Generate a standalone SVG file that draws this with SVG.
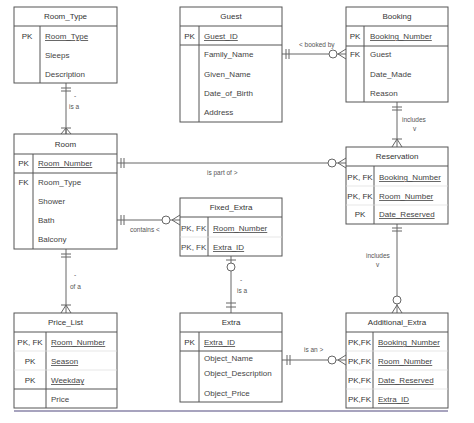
<svg xmlns="http://www.w3.org/2000/svg" width="474" height="423" viewBox="0 0 474 423">
<style>
.box{fill:#fff;stroke:#555;stroke-width:1}
.ln{fill:none;stroke:#666;stroke-width:1}
.sep{stroke:#555;stroke-width:1}
.fsep{stroke:#ddd;stroke-width:0.7}
text{font-family:"Liberation Sans",Arial,sans-serif;font-size:8px;fill:#444}
.h{text-anchor:middle;fill:#333}
.k{text-anchor:middle;fill:#333}
.u{text-decoration:underline}
.lbl{font-size:6.5px;fill:#555}
.circ{fill:#fff;stroke:#666;stroke-width:1}
</style>
<rect width="474" height="423" fill="#fff"/>

<g id="connectors">
  <!-- Room_Type -> Room -->
  <path class="ln" d="M66,83V134 M61,88H71 M61,91H71 M61,128H71 M66,128L61,134 M66,128V134 M66,128L71,134"/>
  <text class="lbl" x="74" y="98">-</text>
  <text class="lbl" x="69" y="109">is a</text>
  <!-- Guest -> Booking -->
  <path class="ln" d="M282,54H329 M286,49V59 M289,49V59 M337,54H346 M338,54L346,49 M338,54L346,59"/>
  <circle class="circ" cx="333" cy="54" r="4"/>
  <text class="lbl" x="299" y="47">&lt; booked by</text>
  <!-- Booking -> Reservation -->
  <path class="ln" d="M397,102V147 M392,107H402 M392,110H402 M392,139H402 M397,139L392,147 M397,139L402,147"/>
  <text class="lbl" x="402" y="122">includes</text>
  <text class="lbl" x="413" y="131">v</text>
  <!-- Room -> Reservation -->
  <path class="ln" d="M117,163H328 M121,158V168 M124,158V168 M336,163H346 M338,163L346,158 M338,163L346,168"/>
  <circle class="circ" cx="332" cy="163" r="4"/>
  <text class="lbl" x="207" y="175">is part of &gt;</text>
  <!-- Room -> Fixed_Extra -->
  <path class="ln" d="M117,220H162 M121,215V225 M124,215V225 M170,220H180 M172,220L180,215 M172,220L180,225"/>
  <circle class="circ" cx="166" cy="220" r="4"/>
  <text class="lbl" x="130" y="232">contains &lt;</text>
  <!-- Room -> Price_List -->
  <path class="ln" d="M66,249V313 M61,254H71 M61,257H71 M61,305H71 M66,305L61,313 M66,305L71,313"/>
  <text class="lbl" x="74" y="277">-</text>
  <text class="lbl" x="70" y="289">of a</text>
  <!-- Fixed_Extra -> Extra -->
  <path class="ln" d="M231,256V263 M231,271V313 M226,260H236 M226,303H236 M226,307H236"/>
  <circle class="circ" cx="231" cy="267" r="4"/>
  <text class="lbl" x="240" y="282">-</text>
  <text class="lbl" x="237" y="293">is a</text>
  <!-- Reservation -> Additional_Extra -->
  <path class="ln" d="M397,224V296 M392,228H402 M392,231H402 M397,304V313 M397,305L392,313 M397,305L402,313"/>
  <circle class="circ" cx="397" cy="300" r="4"/>
  <text class="lbl" x="366" y="258">includes</text>
  <text class="lbl" x="376" y="267">v</text>
  <!-- Extra -> Additional_Extra -->
  <path class="ln" d="M282,360H328 M287,355V365 M290,355V365 M336,360H346 M338,360L346,355 M338,360L346,365"/>
  <circle class="circ" cx="332" cy="360" r="4"/>
  <text class="lbl" x="304" y="352">is an &gt;</text>
</g>

<g id="Room_Type">
  <rect class="box" x="14" y="7" width="103" height="76"/>
  <line class="sep" x1="14" y1="26" x2="117" y2="26"/>
  <line class="sep" x1="40" y1="26" x2="40" y2="83"/>
  <text class="h" x="65.5" y="19">Room_Type</text>
  <text class="k" x="27" y="39">PK</text>
  <text class="u" x="45" y="39">Room_Type</text>
  <text x="45" y="58">Sleeps</text>
  <text x="45" y="77">Description</text>
</g>

<g id="Guest">
  <rect class="box" x="180" y="7" width="102" height="115"/>
  <line class="sep" x1="180" y1="26" x2="282" y2="26"/>
  <line class="sep" x1="180" y1="45" x2="282" y2="45"/>
  <line class="sep" x1="199" y1="26" x2="199" y2="122"/>
  <text class="h" x="231" y="19">Guest</text>
  <text class="k" x="189.5" y="39">PK</text>
  <text class="u" x="204" y="39">Guest_ID</text>
  <text x="204" y="57">Family_Name</text>
  <text x="204" y="77">Given_Name</text>
  <text x="204" y="96">Date_of_Birth</text>
  <text x="204" y="115">Address</text>
</g>

<g id="Booking">
  <rect class="box" x="346" y="7" width="102" height="95"/>
  <line class="sep" x1="346" y1="26" x2="448" y2="26"/>
  <line class="sep" x1="346" y1="46" x2="448" y2="46"/>
  <line class="sep" x1="364" y1="26" x2="364" y2="102"/>
  <text class="h" x="397" y="19">Booking</text>
  <text class="k" x="355" y="39">PK</text>
  <text class="u" x="370" y="39">Booking_Number</text>
  <text class="k" x="355" y="57">FK</text>
  <text x="370" y="57">Guest</text>
  <text x="370" y="77">Date_Made</text>
  <text x="370" y="96">Reason</text>
</g>

<g id="Room">
  <rect class="box" x="14" y="134" width="103" height="115"/>
  <line class="sep" x1="14" y1="154" x2="117" y2="154"/>
  <line class="sep" x1="14" y1="173" x2="117" y2="173"/>
  <line class="sep" x1="33" y1="154" x2="33" y2="249"/>
  <text class="h" x="65.5" y="147">Room</text>
  <text class="k" x="23.5" y="166">PK</text>
  <text class="u" x="38" y="166">Room_Number</text>
  <text class="k" x="23.5" y="185">FK</text>
  <text x="38" y="185">Room_Type</text>
  <text x="38" y="204">Shower</text>
  <text x="38" y="223">Bath</text>
  <text x="38" y="242">Balcony</text>
</g>

<g id="Reservation">
  <rect class="box" x="346" y="147" width="102" height="77"/>
  <line class="sep" x1="346" y1="166" x2="448" y2="166"/>
  <line class="sep" x1="374" y1="166" x2="374" y2="224"/>
  <line class="fsep" x1="346" y1="186" x2="448" y2="186"/>
  <line class="fsep" x1="346" y1="205" x2="448" y2="205"/>
  <text class="h" x="397" y="159">Reservation</text>
  <text class="k" x="360" y="180">PK, FK</text>
  <text class="u" x="379" y="180">Booking_Number</text>
  <text class="k" x="360" y="199">PK, FK</text>
  <text class="u" x="379" y="199">Room_Number</text>
  <text class="k" x="360" y="217">PK</text>
  <text class="u" x="379" y="217">Date_Reserved</text>
</g>

<g id="Fixed_Extra">
  <rect class="box" x="180" y="198" width="102" height="58"/>
  <line class="sep" x1="180" y1="217" x2="282" y2="217"/>
  <line class="sep" x1="208" y1="217" x2="208" y2="256"/>
  <line class="fsep" x1="180" y1="237" x2="282" y2="237"/>
  <text class="h" x="231" y="210">Fixed_Extra</text>
  <text x="181" y="231">PK, FK</text>
  <text class="u" x="213" y="231">Room_Number</text>
  <text x="181" y="250">PK, FK</text>
  <text class="u" x="213" y="250">Extra_ID</text>
</g>

<g id="Price_List">
  <rect class="box" x="14" y="313" width="103" height="95"/>
  <line class="sep" x1="14" y1="332" x2="117" y2="332"/>
  <line class="sep" x1="14" y1="389" x2="117" y2="389"/>
  <line class="sep" x1="46" y1="332" x2="46" y2="408"/>
  <line class="fsep" x1="14" y1="351" x2="117" y2="351"/>
  <line class="fsep" x1="14" y1="370" x2="117" y2="370"/>
  <text class="h" x="65.5" y="325">Price_List</text>
  <text class="k" x="30" y="345">PK, FK</text>
  <text class="u" x="51" y="345">Room_Number</text>
  <text class="k" x="30" y="364">PK</text>
  <text class="u" x="51" y="364">Season</text>
  <text class="k" x="30" y="383">PK</text>
  <text class="u" x="51" y="383">Weekday</text>
  <text x="51" y="402">Price</text>
</g>

<g id="Extra">
  <rect class="box" x="180" y="313" width="102" height="89"/>
  <line class="sep" x1="180" y1="332" x2="282" y2="332"/>
  <line class="sep" x1="180" y1="351" x2="282" y2="351"/>
  <line class="sep" x1="199" y1="332" x2="199" y2="402"/>
  <text class="h" x="231" y="325">Extra</text>
  <text class="k" x="189.5" y="345">PK</text>
  <text class="u" x="204" y="345">Extra_ID</text>
  <text x="204" y="361">Object_Name</text>
  <text x="204" y="376">Object_Description</text>
  <text x="204" y="396">Object_Price</text>
</g>

<g id="Additional_Extra">
  <rect class="box" x="346" y="313" width="102" height="95"/>
  <line class="sep" x1="346" y1="332" x2="448" y2="332"/>
  <line class="sep" x1="373" y1="332" x2="373" y2="408"/>
  <line class="fsep" x1="346" y1="351" x2="448" y2="351"/>
  <line class="fsep" x1="346" y1="370" x2="448" y2="370"/>
  <line class="fsep" x1="346" y1="389" x2="448" y2="389"/>
  <text class="h" x="397" y="325">Additional_Extra</text>
  <text class="k" x="359.5" y="345">PK,FK</text>
  <text class="u" x="378" y="345">Booking_Number</text>
  <text class="k" x="359.5" y="364">PK,FK</text>
  <text class="u" x="378" y="364">Room_Number</text>
  <text class="k" x="359.5" y="383">PK,FK</text>
  <text class="u" x="378" y="383">Date_Reserved</text>
  <text class="k" x="359.5" y="402">PK,FK</text>
  <text class="u" x="378" y="402">Extra_ID</text>
</g>

<line x1="14" y1="411" x2="448" y2="411" stroke="#8a84a8" stroke-width="1.5"/>
</svg>
